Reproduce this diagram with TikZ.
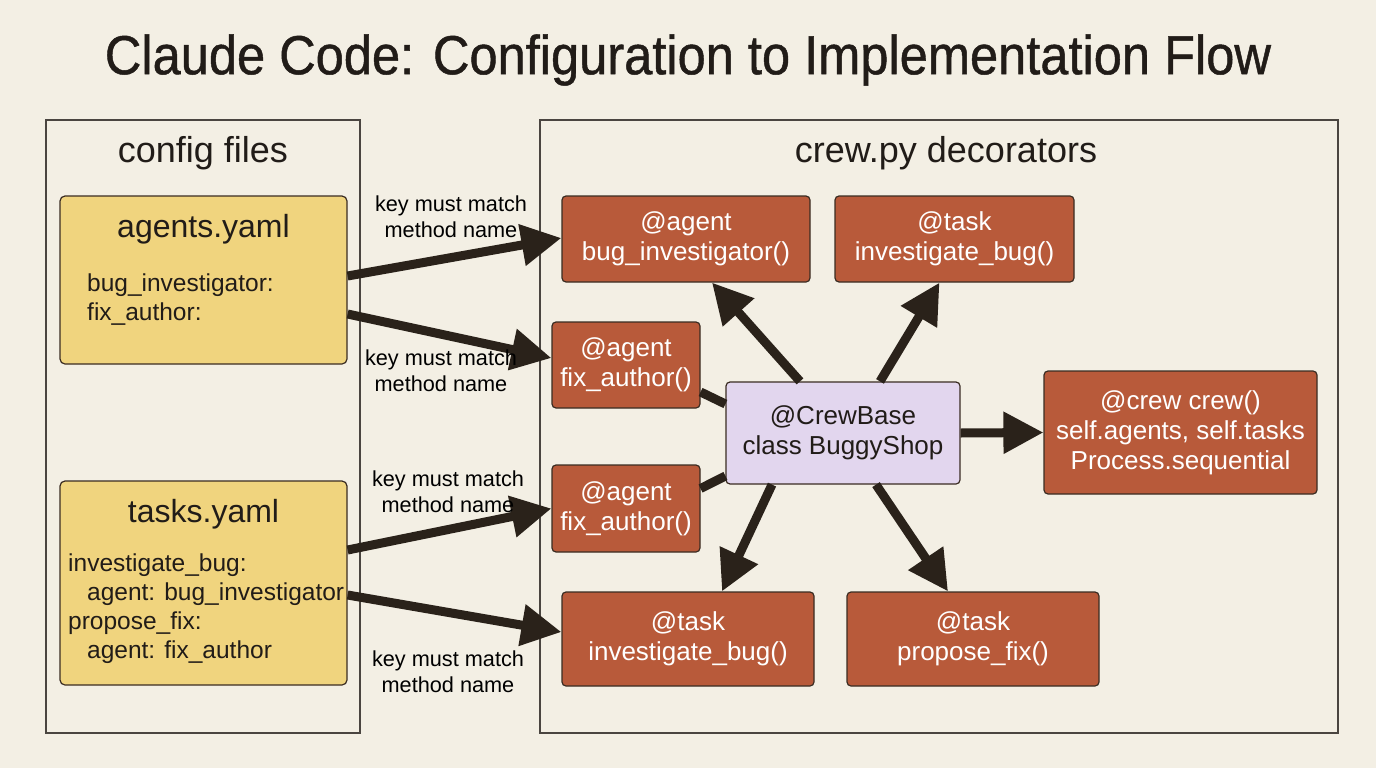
\documentclass[tikz,border=0pt]{standalone}
\usepackage{graphicx}
\usepackage{fontspec}
\setmainfont{Liberation Sans}
\newfontfamily\ttlfont[FakeBold=0.9]{Liberation Sans}
\usetikzlibrary{arrows.meta}
\definecolor{bgcream}{RGB}{243,239,228}
\definecolor{inkdark}{RGB}{33,28,24}
\definecolor{arrowink}{RGB}{42,34,26}
\definecolor{panelgray}{RGB}{74,69,64}
\definecolor{boxedge}{RGB}{58,44,34}
\definecolor{yamlfill}{RGB}{240,212,126}
\definecolor{decofill}{RGB}{184,90,58}
\definecolor{basefill}{RGB}{226,214,238}
\tikzset{
  panel/.style={draw=panelgray, line width=1.4pt},
  ttl/.style={font=\ttlfont\fontsize{55}{64}\selectfont, text=inkdark},
  pcap/.style={font=\fontsize{36}{42}\selectfont, text=inkdark},
  yamlbox/.style={draw=boxedge, fill=yamlfill, rounded corners=5pt, line width=1.2pt},
  yamlname/.style={font=\fontsize{32}{38}\selectfont, text=inkdark},
  yamlkeys/.style={font=\fontsize{24.5}{29}\selectfont, text=inkdark, align=left, inner sep=0pt, anchor=west},
  deco/.style={draw=boxedge, fill=decofill, rounded corners=4pt, line width=1.2pt,
               text=white, align=center, font=\fontsize{26}{30}\selectfont, inner sep=0pt},
  crewbase/.style={deco, fill=basefill, text=inkdark},
  keylab/.style={font=\fontsize{21.7}{26}\selectfont, align=center, text=black},
  bigarr/.style={-{Triangle[length=40pt, width=40pt]}, arrowink, line width=9pt},
  tie/.style={arrowink, line width=9pt},
}

\begin{document}
\begin{tikzpicture}[x=1pt, y=-1pt]
  \fill[bgcream] (0,0) rectangle (1376,768);
  \node[ttl] (title) at (688,60) {\scalebox{0.92}[1]{Claude Code: Configuration to Implementation Flow}};

  % two panels
  \draw[panel] (46,120) rectangle (360,733);
  \draw[panel] (540,120) rectangle (1338,733);
  \node[pcap] (cfgcap) at (203,153) {config files};
  \node[pcap] (crewcap) at (946,153) {crew.py decorators};

  % config files
  \node[yamlbox, minimum width=287pt, minimum height=168pt] (agents) at (203.5,280) {};
  \node[yamlname] (agentsname) at (203.5,229) {agents.yaml};
  \node[yamlkeys] (agentkeys) at (87,299.5) {bug\_investigator:\\fix\_author:};

  \node[yamlbox, minimum width=287pt, minimum height=204pt] (tasks) at (203.5,583) {};
  \node[yamlname] (tasksname) at (203.5,514) {tasks.yaml};
  \node[yamlkeys] (taskkeys) at (68,608.5)
    {investigate\_bug:\\\hspace*{19pt}agent: bug\_investigator\\propose\_fix:\\\hspace*{19pt}agent: fix\_author};

  % decorators
  \node[deco, minimum width=248pt, minimum height=86pt] (bugagent) at (686,239) {@agent\\bug\_investigator()};
  \node[deco, minimum width=239pt, minimum height=86pt] (invtask) at (954.5,239) {@task\\investigate\_bug()};
  \node[deco, minimum width=148pt, minimum height=86pt] (fixagent) at (626,365) {@agent\\fix\_author()};
  \node[deco, minimum width=148pt, minimum height=87pt] (fixagentb) at (626,508.5) {@agent\\fix\_author()};
  \node[crewbase, minimum width=234pt, minimum height=102pt] (base) at (843,433) {@CrewBase\\class BuggyShop};
  \node[deco, minimum width=273pt, minimum height=123pt] (crew) at (1180.5,432.5)
    {@crew crew()\\self.agents, self.tasks\\Process.sequential};
  \node[deco, minimum width=252pt, minimum height=94pt] (invtaskb) at (688,639) {@task\\investigate\_bug()};
  \node[deco, minimum width=252pt, minimum height=94pt] (fixtask) at (973,639) {@task\\propose\_fix()};

  % key names to methods
  \draw[bigarr] ([yshift=4pt]agents.east) -- ([yshift=1pt]bugagent.west);
  \draw[bigarr] ([yshift=-34pt]agents.east) -- ([yshift=7pt]fixagent.west);
  \draw[bigarr] ([yshift=33pt]tasks.east) -- ([yshift=0pt]fixagentb.west);
  \draw[bigarr] ([yshift=-12pt]tasks.east) -- ([yshift=7pt]invtaskb.west);
  \node[keylab] (lab1) at (451,217) {key must match\\method name};
  \node[keylab] (lab2) at (441,371) {key must match\\method name};
  \node[keylab] (lab3) at (448,492) {key must match\\method name};
  \node[keylab] (lab4) at (448,672) {key must match\\method name};

  % class to decorators
  \draw[tie] ([yshift=-27pt]fixagent.east) -- ([yshift=29pt]base.west);
  \draw[tie] ([yshift=20pt]fixagentb.east) -- ([yshift=-43pt]base.west);
  \draw[bigarr] ([xshift=-43pt]base.north) -- ([xshift=26pt]bugagent.south);
  \draw[bigarr] ([xshift=37pt]base.north) -- ([xshift=-15pt]invtask.south);
  \draw[bigarr] (base.east) -- (crew.west);
  \draw[bigarr] ([xshift=-71pt]base.south) -- ([xshift=34pt]invtaskb.north);
  \draw[bigarr] ([xshift=33pt]base.south) -- ([xshift=-25pt]fixtask.north);
\end{tikzpicture}
\end{document}
